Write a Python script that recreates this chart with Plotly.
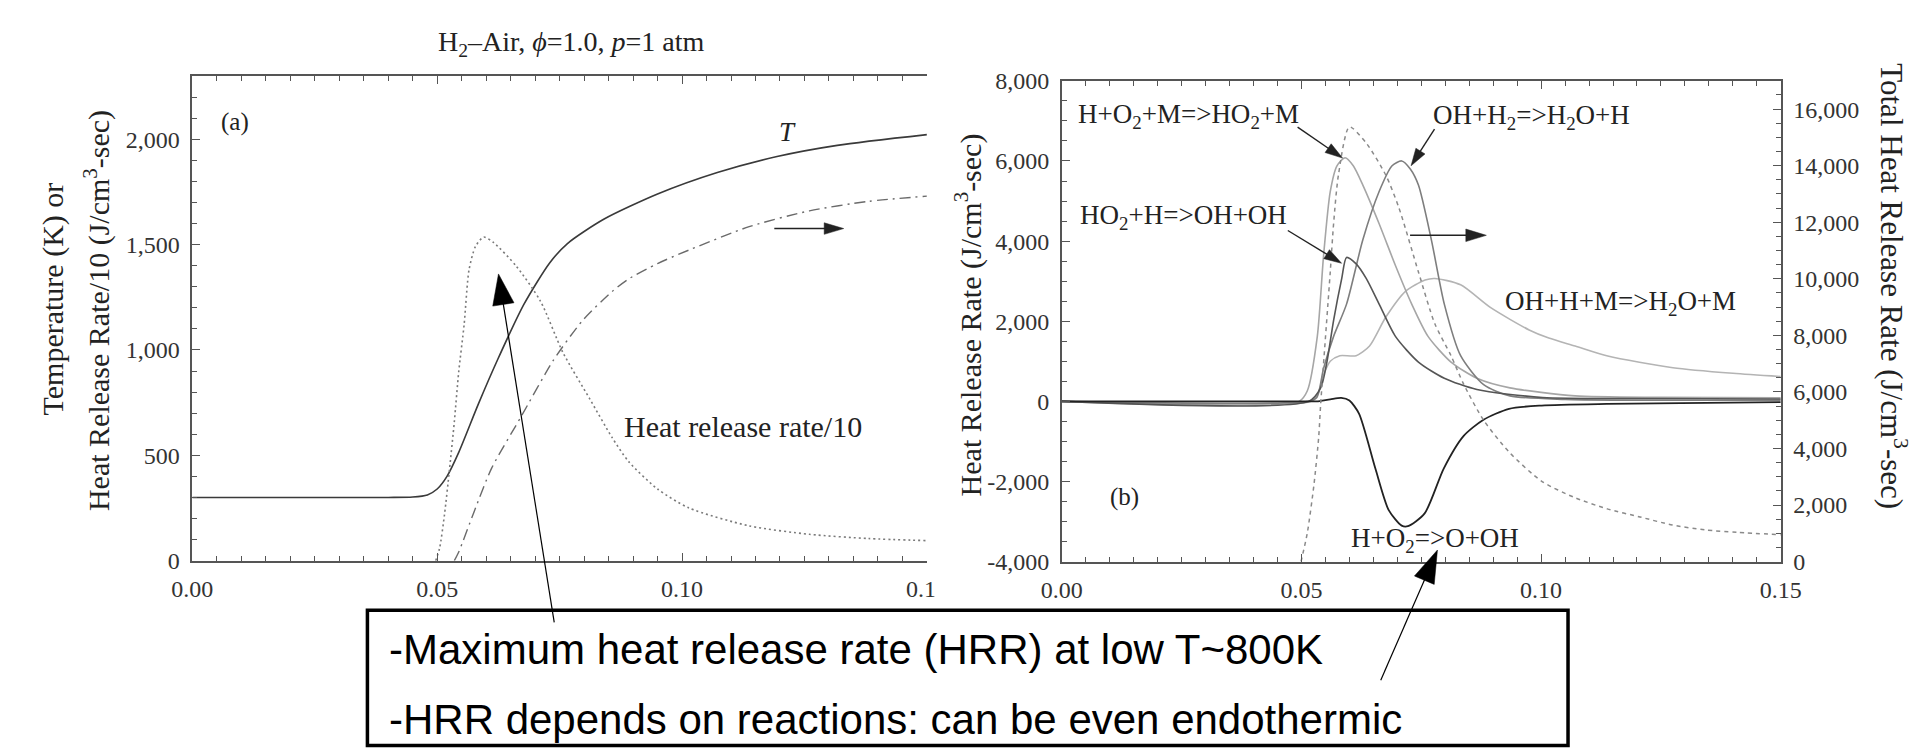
import math
import plotly.graph_objects as go

# ---------------- data ----------------
# Panel (a): temperature, heat release rate/10, dash-dot curve
x_T = [0.0, 0.02, 0.04, 0.045, 0.048, 0.050, 0.052, 0.0544, 0.0584, 0.0624, 0.0677,
       0.073, 0.0766, 0.084, 0.095, 0.1072, 0.1194, 0.1317, 0.15]
T_K = [300, 300, 300, 302, 312, 340, 400, 514, 743, 957, 1216,
       1414, 1505, 1620, 1740, 1842, 1918, 1971, 2022]

x_hrr10 = [0.0497, 0.0505, 0.0515, 0.0525, 0.0535, 0.0544, 0.0555, 0.0565, 0.0578, 0.0595,
           0.0615, 0.0661, 0.0711, 0.0757, 0.0811, 0.0857, 0.0891, 0.095, 0.1014, 0.1137,
           0.126, 0.138, 0.15]
hrr10 = [0, 60, 220, 430, 660, 897, 1120, 1380, 1490, 1536,
         1510, 1399, 1231, 987, 770, 585, 470, 340, 250, 165,
         125, 105, 95]

x_dd = [0.0535, 0.0544, 0.0575, 0.0611, 0.0671, 0.0737, 0.0797, 0.0857, 0.0891, 0.095,
        0.1014, 0.1137, 0.126, 0.138, 0.15]
dd = [0, 41, 230, 438, 682, 950, 1140, 1277, 1337, 1410,
      1474, 1585, 1660, 1705, 1730]

# Panel (b): reaction heat release rates (left axis) and total (right axis)
x_r1 = [0.0, 0.0495, 0.0512, 0.0533, 0.0546, 0.056, 0.0574, 0.0591, 0.0608, 0.0628,
        0.0662, 0.0696, 0.073, 0.0764, 0.0812, 0.0866, 0.0935, 0.1071, 0.125, 0.15]
r1 = [0, 0, 258, 1622, 3632, 5237, 5880, 6080, 5880, 5398,
      4434, 3391, 2427, 1622, 981, 578, 337, 137, 100, 90]     # H+O2+M=>HO2+M

x_r2 = [0.0, 0.0515, 0.0532, 0.0546, 0.0567, 0.0594, 0.0628, 0.0662, 0.0689, 0.0709,
        0.0727, 0.0744, 0.0771, 0.0798, 0.0832, 0.088, 0.0935, 0.105, 0.15]
r2 = [0, 0, 96, 819, 1622, 2427, 4032, 5237, 5880, 6001,
      5800, 5398, 4032, 2427, 1140, 417, 137, 50, 30]          # OH+H2=>H2O+H

x_r3 = [0.0, 0.0515, 0.054, 0.0553, 0.0567, 0.0584, 0.0594, 0.0614, 0.0635, 0.0662,
        0.0696, 0.0744, 0.0798, 0.0866, 0.1003, 0.12, 0.15]
r3 = [0, 0, 337, 981, 2024, 3068, 3591, 3430, 3068, 2427,
      1622, 981, 578, 296, 96, 70, 60]                         # HO2+H=>OH+OH

x_r4 = [0.0, 0.052, 0.0535, 0.0546, 0.056, 0.058, 0.0614, 0.0642, 0.0676, 0.0717,
        0.0758, 0.0778, 0.0832, 0.0894, 0.0975, 0.1016, 0.1071, 0.1139, 0.1275, 0.14, 0.15]
r4 = [0, 0, 200, 658, 1000, 1140, 1140, 1381, 2104, 2747,
      3029, 3068, 2909, 2345, 1783, 1580, 1380, 1130, 840, 700, 620]   # OH+H+M=>H2O+M

x_r5 = [0.0, 0.052, 0.0532, 0.056, 0.0583, 0.060, 0.062, 0.0654, 0.0682, 0.0709,
        0.0722, 0.0757, 0.0797, 0.0838, 0.0879, 0.0933, 0.1001, 0.1137, 0.15]
r5 = [0, 0, 0, 50, 85, 20, -306, -1671, -2716, -3102,
      -3117, -2796, -1671, -868, -465, -185, -104, -65, -20]   # H+O2=>O+OH

x_tot = [0.0499, 0.0512, 0.0526, 0.0536, 0.054, 0.056, 0.0567, 0.0577, 0.060, 0.0635,
         0.0676, 0.0703, 0.0744, 0.0778, 0.0812, 0.0839, 0.088, 0.0934, 0.1002, 0.107,
         0.1138, 0.1206, 0.1274, 0.1342, 0.141, 0.15]
total = [0, 1000, 2719, 4429, 5568, 10243, 11953, 13663, 15373, 14802,
         13663, 12524, 10243, 8420, 7278, 6252, 5000, 3858, 2832, 2264,
         1864, 1580, 1293, 1122, 1033, 951]

# tick labels
x_tickvals = [0.0, 0.05, 0.10, 0.15]
x_ticktext = ["0.00", "0.05", "0.10", "0.15"]
ya_tickvals = [0, 500, 1000, 1500, 2000]
ya_ticktext = ["0", "500", "1,000", "1,500", "2,000"]
yb_tickvals = [-4000, -2000, 0, 2000, 4000, 6000, 8000]
yb_ticktext = ["-4,000", "-2,000", "0", "2,000", "4,000", "6,000", "8,000"]
yt_tickvals = [0, 2000, 4000, 6000, 8000, 10000, 12000, 14000, 16000]
yt_ticktext = ["0", "2,000", "4,000", "6,000", "8,000", "10,000", "12,000", "14,000", "16,000"]

title_text = "H<sub>2</sub>–Air, <i>ϕ</i>=1.0, <i>p</i>=1 atm"
box_lines = ["-Maximum heat release rate (HRR) at low T~800K",
             "-HRR depends on reactions: can be even endothermic"]

# ---------------- figure ----------------
W, H = 1917, 751
SERIF = "Liberation Serif, Times New Roman, serif"
SANS = "Liberation Sans, Arial, sans-serif"


def px(x):
    return x / W


def py(y):
    return 1 - y / H


fig = go.Figure()


def line(xs, ys, color, width=1.6, dash=None, xa='x', ya='y'):
    fig.add_trace(go.Scatter(x=xs, y=ys, mode='lines', xaxis=xa, yaxis=ya,
                             line=dict(color=color, width=width, dash=dash,
                                       shape='spline', smoothing=0.7),
                             showlegend=False, hoverinfo='skip'))


# panel (a)
line(x_T, T_K, '#3a3a3a', 1.6)
line(x_hrr10, hrr10, '#7a7a7a', 1.6, '2px,3px')
line(x_dd, dd, '#6a6a6a', 1.4, '11px,5px,2px,5px')

# panel (b)
line(x_tot, total, '#8a8a8a', 1.5, '4px,4px', 'x2', 'y3')
line(x_r4, r4, '#b4b4b4', 1.6, None, 'x2', 'y2')
line(x_r1, r1, '#a6a6a6', 1.6, None, 'x2', 'y2')
line(x_r2, r2, '#7e7e7e', 1.6, None, 'x2', 'y2')
line(x_r3, r3, '#555555', 1.6, None, 'x2', 'y2')
line(x_r5, r5, '#222222', 1.8, None, 'x2', 'y2')

tickfont = dict(family=SERIF, size=24, color='#333')


def ax(**kw):
    d = dict(showline=True, linecolor='#555', linewidth=1.5, ticks='inside', ticklen=8,
             tickwidth=1.2, tickcolor='#555', showgrid=False, zeroline=False,
             tickfont=tickfont, ticklabelstandoff=6)
    d.update(kw)
    return d


def minor(t0, dt):
    return dict(ticks='inside', ticklen=5, tickwidth=1, tickcolor='#555',
                tickmode='linear', tick0=t0, dtick=dt, showgrid=False)


fig.update_layout(
    width=W, height=H, margin=dict(l=0, r=0, t=0, b=0),
    paper_bgcolor='white', plot_bgcolor='white', showlegend=False,
    xaxis=ax(domain=[px(167), px(918)], range=[0, 0.15], tickmode='array',
             tickvals=x_tickvals, ticktext=x_ticktext, mirror='ticks',
             minor=minor(0, 0.005), anchor='y'),
    yaxis=ax(domain=[py(559), py(57)], range=[0, 2300], tickmode='array',
             tickvals=ya_tickvals, ticktext=ya_ticktext, minor=minor(0, 100), anchor='x'),
    yaxis4=ax(overlaying='y', side='right', anchor='x', range=[0, 20.25], dtick=1,
              ticklen=5, showticklabels=False),
    xaxis2=ax(domain=[px(1056), px(1791)], range=[0, 0.15], tickmode='array',
              tickvals=x_tickvals, ticktext=x_ticktext, mirror='ticks',
              minor=minor(0, 0.005), anchor='y2'),
    yaxis2=ax(domain=[py(560), py(62)], range=[-4000, 8000], tickmode='array',
              tickvals=yb_tickvals, ticktext=yb_ticktext, minor=minor(-4000, 500),
              anchor='x2'),
    yaxis3=ax(overlaying='y2', side='right', anchor='x2', range=[0, 17000],
              tickmode='array', tickvals=yt_tickvals, ticktext=yt_ticktext,
              minor=minor(0, 500)),
)


def label(text, x, y, size, family=SERIF, angle=0, xanchor='center', color='#222'):
    fig.add_annotation(text=text, x=px(x), y=py(y), xref='paper', yref='paper',
                       showarrow=False, textangle=angle, xanchor=xanchor, yanchor='middle',
                       font=dict(family=family, size=size, color=color))


def arrow(x0, y0, x1, y1, hl, hw, lw=1.3, color='#111'):
    dx, dy = x1 - x0, y1 - y0
    L = math.hypot(dx, dy)
    ux, uy = dx / L, dy / L
    bx, by = x1 - ux * hl, y1 - uy * hl
    nx, ny = -uy, ux
    p1 = (bx + nx * hw / 2, by + ny * hw / 2)
    p2 = (bx - nx * hw / 2, by - ny * hw / 2)
    fig.add_shape(type='line', xref='paper', yref='paper', x0=px(x0), y0=py(y0),
                  x1=px(bx + ux * 2), y1=py(by + uy * 2), line=dict(color=color, width=lw))
    path = (f"M {px(x1)},{py(y1)} L {px(p1[0])},{py(p1[1])} "
            f"L {px(p2[0])},{py(p2[1])} Z")
    fig.add_shape(type='path', xref='paper', yref='paper', path=path, fillcolor=color,
                  line=dict(color=color, width=0.5))


# crop of the "0.15" label of panel (a)
fig.add_shape(type='rect', xref='paper', yref='paper', x0=px(926), x1=px(946),
              y0=py(600), y1=py(565), fillcolor='white', line=dict(width=0), layer='above')

# titles / labels
label(title_text, 555, 23, 28)
label("Temperature (K) or", 25, 288, 30, angle=-90)
label("Heat Release Rate/10 (J/cm<sup>3</sup>-sec)", 70, 300, 30, angle=-90)
label("Heat Release Rate (J/cm<sup>3</sup>-sec)", 961, 304, 30, angle=-90)
label("Total Heat Release Rate (J/cm<sup>3</sup>-sec)", 1906, 275, 31, angle=90)

label("(a)", 211, 105, 25)
label("<i>T</i>", 776, 115, 27)
label("Heat release rate/10", 730, 420, 30)
label("(b)", 1120, 493, 25)
label("H+O<sub>2</sub>+M=&gt;HO<sub>2</sub>+M", 1185, 98, 27)
label("OH+H<sub>2</sub>=&gt;H<sub>2</sub>O+H", 1536, 99, 27)
label("HO<sub>2</sub>+H=&gt;OH+OH", 1180, 203, 27)
label("OH+H+M=&gt;H<sub>2</sub>O+M", 1627, 292, 27)
label("H+O<sub>2</sub>=&gt;O+OH", 1438, 538, 27)

# small arrows
arrow(762, 215, 833, 215, 20, 12, 1.4, '#222')
arrow(1412, 222, 1490, 222, 21, 13, 1.4, '#222')
arrow(1297, 110, 1343, 142, 18, 11, 1.4, '#222')
arrow(1437, 112, 1413, 150, 18, 11, 1.4, '#222')
arrow(1287, 217, 1342, 251, 18, 11, 1.4, '#222')

# text box
fig.add_shape(type='rect', xref='paper', yref='paper', x0=px(346), x1=px(1573.5),
              y0=py(750.5), y1=py(610.5), line=dict(color='black', width=3.5),
              fillcolor='rgba(0,0,0,0)')
label(box_lines[0], 366, 651, 42, family=SANS, xanchor='left', color='black')
label(box_lines[1], 366, 724, 42, family=SANS, xanchor='left', color='black')

# big arrows from the box
arrow(537, 623, 480, 262, 32, 22, 1.2, 'black')
arrow(1382, 683, 1440, 548, 34, 22, 1.2, 'black')

fig.write_html("out.html")
